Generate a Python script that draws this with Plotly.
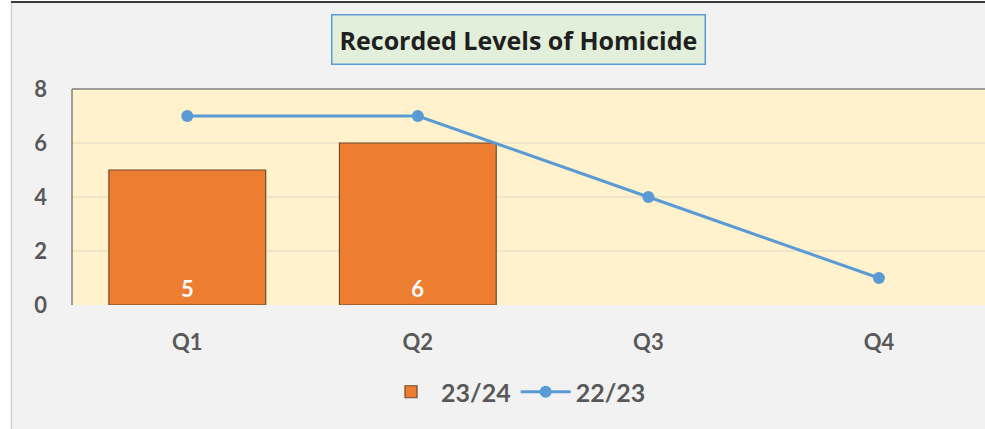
import plotly.graph_objects as go

quarters = ["Q1", "Q2", "Q3", "Q4"]
val_2324 = [5, 6, None, None]
val_2223 = [7, 7, 4, 1]
y_ticks = [0, 2, 4, 6, 8]

W, H = 985, 429
L, R, T, B = 72, 0, 89, 124
pw = W - L - R
ph = H - T - B
FONT = "Lato"

def px(x):
    return (x - L) / pw

def py(y):
    return (H - B - y) / ph

fig = go.Figure()
fig.add_trace(go.Bar(
    x=quarters, y=val_2324, name="23/24",
    marker=dict(color="#ED7D31", line=dict(color="#6E4B2A", width=1.2)),
    width=0.68,
    text=[str(v) if v is not None else "" for v in val_2324],
    textposition="inside", insidetextanchor="start",
    textfont=dict(color="white", size=22, family=FONT, weight="bold"),
))
fig.add_trace(go.Scatter(
    x=quarters, y=val_2223, name="22/23", mode="lines+markers",
    line=dict(color="#5B9BD5", width=3),
    marker=dict(color="#5B9BD5", size=12),
))

fig.update_layout(
    width=W, height=H,
    margin=dict(l=L, r=R, t=T, b=B),
    paper_bgcolor="#F2F2F2", plot_bgcolor="#FFF2CC",
    font=dict(family=FONT, color="#595959"),
    showlegend=True,
    legend=dict(orientation="h", x=px(516), y=py(392), xanchor="center", yanchor="middle",
                font=dict(size=25, color="#595959", weight="bold", family=FONT),
                bgcolor="rgba(0,0,0,0)", traceorder="normal", itemwidth=50),
    bargap=0.32,
)
fig.update_xaxes(
    range=[-0.5, 3.46], showgrid=False, zeroline=False, showline=False,
    tickfont=dict(size=22, color="#595959", weight="bold", family=FONT),
    ticks="", ticklabelstandoff=22, fixedrange=True,
)
fig.update_yaxes(
    range=[0, 8], tickvals=y_ticks, showgrid=True, gridcolor="#EEE4C8", gridwidth=1.5,
    zeroline=False, showline=False,
    tickfont=dict(size=22, color="#595959", weight="bold", family=FONT),
    ticks="", ticklabelstandoff=24, fixedrange=True,
)

fig.add_annotation(
    text="<b>Recorded Levels of Homicide</b>", xref="paper", yref="paper",
    x=px(518), y=py(39), xanchor="center", yanchor="middle", showarrow=False,
    font=dict(size=25, color="#1F1F1F", family="Open Sans"),
    bgcolor="#E2EFDA", bordercolor="#5B9BD5", borderwidth=1.5, borderpad=7,
)

shapes = [
    dict(type="rect", xref="paper", yref="paper", x0=px(-2), x1=px(11), y0=py(H + 2), y1=py(-2),
         fillcolor="white", line=dict(width=0), layer="above"),
    dict(type="line", xref="paper", yref="paper", x0=px(11.5), x1=px(11.5), y0=py(H + 2), y1=py(2),
         line=dict(color="#D0D0D0", width=1.5), layer="above"),
    dict(type="rect", xref="paper", yref="paper", x0=px(11), x1=px(W + 2), y0=py(1), y1=py(-2),
         fillcolor="white", line=dict(width=0), layer="above"),
    dict(type="line", xref="paper", yref="paper", x0=px(11), x1=px(W + 2), y0=py(2), y1=py(2),
         line=dict(color="#3A3A3A", width=2), layer="above"),
    dict(type="line", xref="paper", yref="paper", x0=0, x1=1.02, y0=1, y1=1,
         line=dict(color="#7F7F7F", width=1.5), layer="above"),
    dict(type="line", xref="paper", yref="paper", x0=0, x1=0, y0=0, y1=1,
         line=dict(color="#7F7F7F", width=1.5), layer="above"),
]
fig.update_layout(shapes=shapes)

fig.write_html(
    "out.html",
    config={"displayModeBar": False},
    post_script="document.body.style.margin='0';document.body.style.overflow='hidden';",
)
